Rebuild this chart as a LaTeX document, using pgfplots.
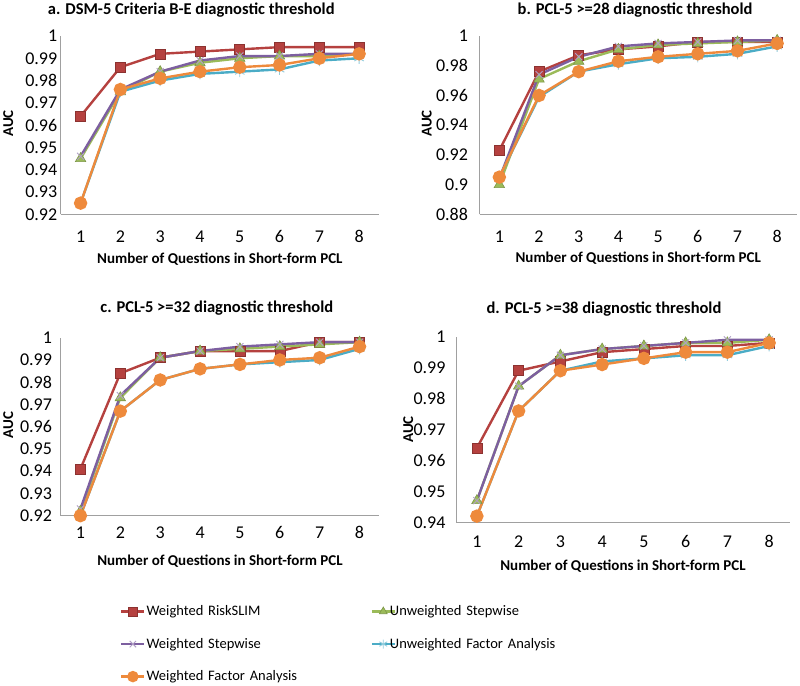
\documentclass[border=0pt]{standalone}
\usepackage{pgfplots}
\pgfplotsset{compat=1.18}
\usepackage{fontspec}
\setmainfont{Carlito}
\definecolor{cRS}{HTML}{B5413F}
\definecolor{cRSd}{HTML}{8C3230}
\definecolor{cUWS}{HTML}{9BBB59}
\definecolor{cWS}{HTML}{7D5FA0}
\definecolor{cUFA}{HTML}{4BACC6}
\definecolor{cWFA}{HTML}{EE8A3C}
\definecolor{axgray}{HTML}{A0A0A0}
\pgfplotsset{
  rs/.style={color=cRS, line width=2.4pt, mark=square*, mark size=5pt, mark options={fill=cRS, draw=cRSd, line width=0.6pt}},
  uws/.style={color=cUWS, line width=2.4pt, mark=triangle*, mark size=6pt, mark options={fill=cUWS, draw=cUWS!80!black, line width=0.6pt}},
  ws/.style={color=cWS, line width=2.4pt, mark=x, mark size=5pt, mark options={draw=cWS!60!white, line width=0.9pt}},
  ufa/.style={color=cUFA, line width=2.4pt, mark=asterisk, mark size=5.5pt, mark options={draw=cUFA!60!white, line width=0.9pt}},
  wfa/.style={color=cWFA, line width=2.4pt, mark=*, mark size=5.5pt, mark options={fill=cWFA, draw=cWFA}},
  panel/.style={scale only axis, clip=false, xmin=0.5, xmax=8.5, xtick={1,...,8},
    axis x line*=bottom, axis y line*=left,
    axis line style={draw=axgray, line width=1pt, -},
    major tick length=0pt, tick style={draw=none},
    ticklabel style={font=\fontsize{18}{20}\selectfont},
    /pgf/number format/assume math mode=true,
    scaled y ticks=false,
    xticklabel style={anchor=center},
    title style={font=\bfseries\fontsize{16.5}{19}\selectfont, anchor=center, yshift=-6pt},
    xlabel={Number of Questions in Short-form PCL}, ylabel={AUC},
    label style={font=\bfseries\fontsize{15}{17}\selectfont},
    xlabel style={anchor=center}, ylabel style={anchor=center},
  },
}
\begin{document}
\begin{tikzpicture}
\useasboundingbox (0,0) rectangle (800pt,685pt);
% ---- panel a
\begin{axis}[panel, at={(60.7pt,470.7pt)}, anchor=south west, width=318.3pt, height=178.3pt,
  ymin=0.92, ymax=1, ytick={0.92,0.93,0.94,0.95,0.96,0.97,0.98,0.99,1},
  xticklabel style={yshift=-22pt},
  title={a. DSM-5 Criteria B-E diagnostic threshold},
  title style={at={(axis description cs:0.41,1.146)}},
  xlabel style={at={(axis description cs:0.5,-0.25)}},
  ylabel style={at={(axis description cs:-0.165,0.51)}}]
\addplot[rs] coordinates {(1,0.964)(2,0.986)(3,0.992)(4,0.993)(5,0.994)(6,0.995)(7,0.995)(8,0.995)};
\addplot[uws] coordinates {(1,0.945)(2,0.975)(3,0.984)(4,0.988)(5,0.990)(6,0.991)(7,0.991)(8,0.992)};
\addplot[ws] coordinates {(1,0.946)(2,0.976)(3,0.984)(4,0.989)(5,0.991)(6,0.991)(7,0.992)(8,0.992)};
\addplot[ufa] coordinates {(1,0.925)(2,0.975)(3,0.980)(4,0.983)(5,0.984)(6,0.985)(7,0.989)(8,0.990)};
\addplot[wfa] coordinates {(1,0.925)(2,0.976)(3,0.981)(4,0.984)(5,0.986)(6,0.987)(7,0.990)(8,0.992)};
\end{axis}
% ---- panel b
\begin{axis}[panel, at={(479.5pt,470.7pt)}, anchor=south west, width=317.5pt, height=178.3pt,
  ymin=0.88, ymax=1, ytick={0.88,0.9,0.92,0.94,0.96,0.98,1},
  xticklabel style={yshift=-22pt}, yticklabel style={xshift=-8pt},
  title={b. PCL-5 >=28 diagnostic threshold},
  title style={at={(axis description cs:0.49,1.146)}},
  xlabel style={at={(axis description cs:0.5,-0.247)}},
  ylabel style={at={(axis description cs:-0.166,0.51)}}]
\addplot[rs] coordinates {(1,0.923)(2,0.976)(3,0.987)(4,0.991)(5,0.993)(6,0.996)(7,0.996)(8,0.996)};
\addplot[uws] coordinates {(1,0.900)(2,0.971)(3,0.983)(4,0.991)(5,0.994)(6,0.995)(7,0.996)(8,0.997)};
\addplot[ws] coordinates {(1,0.904)(2,0.974)(3,0.986)(4,0.993)(5,0.995)(6,0.996)(7,0.997)(8,0.997)};
\addplot[ufa] coordinates {(1,0.905)(2,0.959)(3,0.976)(4,0.981)(5,0.985)(6,0.986)(7,0.988)(8,0.993)};
\addplot[wfa] coordinates {(1,0.905)(2,0.960)(3,0.976)(4,0.983)(5,0.986)(6,0.988)(7,0.990)(8,0.995)};
\end{axis}
% ---- panel c
\begin{axis}[panel, at={(60.5pt,169.3pt)}, anchor=south west, width=319pt, height=178pt,
  ymin=0.92, ymax=1, ytick={0.92,0.93,0.94,0.95,0.96,0.97,0.98,0.99,1},
  xticklabel style={yshift=-17pt}, yticklabel style={xshift=-5pt},
  title={c. PCL-5 >=32 diagnostic threshold},
  title style={at={(axis description cs:0.49,1.167)}},
  xlabel style={at={(axis description cs:0.5,-0.258)}},
  ylabel style={at={(axis description cs:-0.164,0.51)}}]
\addplot[rs] coordinates {(1,0.941)(2,0.984)(3,0.991)(4,0.994)(5,0.994)(6,0.994)(7,0.998)(8,0.998)};
\addplot[uws] coordinates {(1,0.922)(2,0.973)(3,0.991)(4,0.994)(5,0.995)(6,0.996)(7,0.997)(8,0.998)};
\addplot[ws] coordinates {(1,0.923)(2,0.974)(3,0.991)(4,0.994)(5,0.996)(6,0.997)(7,0.998)(8,0.998)};
\addplot[ufa] coordinates {(1,0.920)(2,0.967)(3,0.981)(4,0.986)(5,0.988)(6,0.989)(7,0.990)(8,0.995)};
\addplot[wfa] coordinates {(1,0.920)(2,0.967)(3,0.981)(4,0.986)(5,0.988)(6,0.990)(7,0.991)(8,0.996)};
\end{axis}
% ---- panel d
\begin{axis}[panel, at={(456pt,162.7pt)}, anchor=south west, width=334pt, height=185.6pt,
  ymin=0.94, ymax=1, ytick={0.94,0.95,0.96,0.97,0.98,0.99,1},
  xticklabel style={yshift=-19.5pt}, yticklabel style={xshift=-7pt},
  title={d. PCL-5 >=38 diagnostic threshold},
  title style={at={(axis description cs:0.443,1.148)}},
  xlabel style={at={(axis description cs:0.5,-0.239)}},
  ylabel style={at={(axis description cs:-0.143,0.5)}}]
\addplot[rs] coordinates {(1,0.964)(2,0.989)(3,0.992)(4,0.995)(5,0.996)(6,0.997)(7,0.997)(8,0.998)};
\addplot[uws] coordinates {(1,0.947)(2,0.984)(3,0.994)(4,0.996)(5,0.997)(6,0.998)(7,0.998)(8,0.999)};
\addplot[ws] coordinates {(1,0.947)(2,0.984)(3,0.994)(4,0.996)(5,0.997)(6,0.998)(7,0.999)(8,0.999)};
\addplot[ufa] coordinates {(1,0.942)(2,0.976)(3,0.989)(4,0.992)(5,0.993)(6,0.994)(7,0.994)(8,0.997)};
\addplot[wfa] coordinates {(1,0.942)(2,0.976)(3,0.989)(4,0.991)(5,0.993)(6,0.995)(7,0.995)(8,0.998)};
\end{axis}
% ---- legend
\begin{axis}[hide axis, scale only axis, at={(0pt,0pt)}, anchor=south west, width=800pt, height=685pt,
  xmin=0, xmax=1, ymin=0, ymax=1,
  legend columns=2,
  legend image code/.code={\draw[mark repeat=2, mark phase=2, mark size=4.5pt] plot coordinates {(0pt,0pt) (11.5pt,0pt) (23pt,0pt)};},
  legend style={at={(axis description cs:0.15,0.119)}, anchor=north west, draw=none, fill=none,
    inner sep=0pt, row sep=17pt, column sep=0pt,
    /tikz/column 3/.style={column sep=-7pt},
    font=\fontsize{14.5}{16}\selectfont,
    nodes={text width=223pt, inner xsep=1pt, inner ysep=2pt, align=left}},
  legend cell align=left]
\addlegendimage{rs}
\addlegendentry{Weighted RiskSLIM}
\addlegendimage{uws}
\addlegendentry{Unweighted Stepwise}
\addlegendimage{ws}
\addlegendentry{Weighted Stepwise}
\addlegendimage{ufa}
\addlegendentry{Unweighted Factor Analysis}
\addlegendimage{wfa}
\addlegendentry{Weighted Factor Analysis}
\end{axis}
\end{tikzpicture}
\end{document}
